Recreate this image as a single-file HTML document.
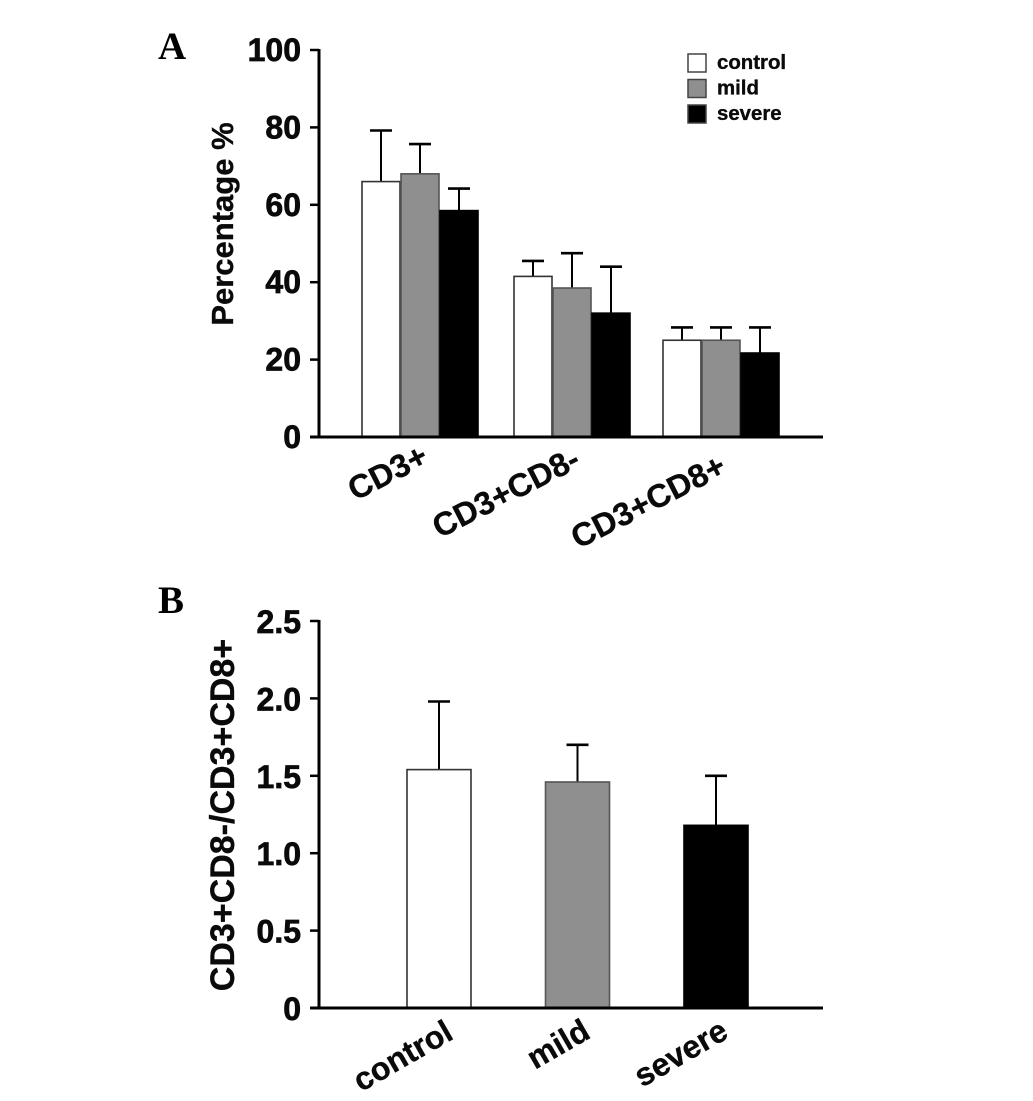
<!DOCTYPE html>
<html>
<head>
<meta charset="utf-8">
<title>CD3 chart</title>
<style>
html,body{margin:0;padding:0;background:#fff;}
svg{display:block;}
text{font-family:"Liberation Sans",sans-serif;font-weight:bold;fill:#0a0a0a;stroke:#0a0a0a;stroke-width:0.35px;}
text.tick{stroke-width:0.7px;}
text.panel{font-family:"Liberation Serif",serif;font-size:39px;fill:#000;stroke:none;}
</style>
</head>
<body>
<svg id="chart" xmlns="http://www.w3.org/2000/svg" width="1033" height="1101" viewBox="0 0 1033 1101"></svg>
<script>
const seriesNames = ['control', 'mild', 'severe'];
const seriesFill = ['#ffffff', '#8f8f8f', '#000000'];
const seriesStroke = ['#333333', '#555555', '#000000'];

const categoriesA = ['CD3+', 'CD3+CD8-', 'CD3+CD8+'];
const controlA = [66, 41.5, 25];
const mildA = [68, 38.5, 25];
const severeA = [58.5, 32, 21.7];
const controlErrA = [79.2, 45.5, 28.3];
const mildErrA = [75.7, 47.5, 28.3];
const severeErrA = [64.2, 44, 28.3];
const ticksA = [0, 20, 40, 60, 80, 100];
const tickLabelsA = ['0', '20', '40', '60', '80', '100'];

const categoriesB = ['control', 'mild', 'severe'];
const valuesB = [1.54, 1.46, 1.18];
const errTopB = [1.98, 1.70, 1.50];
const ticksB = [0, 0.5, 1, 1.5, 2, 2.5];
const tickLabelsB = ['0', '0.5', '1.0', '1.5', '2.0', '2.5'];

const NS = 'http://www.w3.org/2000/svg';
const svg = document.getElementById('chart');

function make(tag, props, txt) {
  const el = document.createElementNS(NS, tag);
  for (const k in props) el.setAttribute(k, props[k]);
  if (txt !== undefined) el.textContent = txt;
  svg.appendChild(el);
  return el;
}
function yA(v) { return 437 - v * 3.87; }
function yB(v) { return 1008 - v * 154.8; }
function xA(g, s) { return [362, 514, 663][g] + s * 39; }
function xB(i) { return 407 + i * 138.5; }

function drawAxes(y, ticks, labels, prefix, base, size, dy) {
  const yLine = make('line', {x1: 319, x2: 319, y1: y(ticks[ticks.length - 1]) - 1, y2: base + 1.5, stroke: '#000', 'stroke-width': 3});
  
  
  const xLine = make('line', {x1: 310, x2: 823, y1: base, y2: base, stroke: '#000', 'stroke-width': 3});
  
  
  ticks.forEach(function (t, i) {
    const tick = make('line', {x1: 310, x2: 319, y1: y(t), y2: y(t), stroke: '#000', 'stroke-width': 2.5});
    
    
    const lab = make('text', {x: 301, y: y(t) + dy, 'text-anchor': 'end', 'font-size': size, class: 'tick'}, labels[i]);
    
    
  });
}

function drawBar(x, w, yTop, yErr, base, s, name) {
  const cx = x + w / 2;
  const stem = make('line', {x1: cx, x2: cx, y1: yTop, y2: yErr, stroke: '#000', 'stroke-width': 2});
  
  
  const cap = make('line', {x1: cx - 11, x2: cx + 11, y1: yErr, y2: yErr, stroke: '#000', 'stroke-width': 2.6});
  
  
  const bar = make('rect', {x: x, y: yTop, width: w, height: base - yTop, fill: seriesFill[s], stroke: seriesStroke[s], 'stroke-width': 1.6});
  
  
}

/* Panel A */
const seriesA = [controlA, mildA, severeA];
const errA = [controlErrA, mildErrA, severeErrA];
categoriesA.forEach(function (c, g) {
  seriesNames.forEach(function (n, s) {
    drawBar(xA(g, s), 38, yA(seriesA[s][g]), yA(errA[s][g]), 437, s, 'bar-a-' + g + '-' + n);
  });
});
drawAxes(yA, ticksA, tickLabelsA, 'panel-a', 437, 32, 11);

const labelEndA = [[430, 463], [582, 466], [728, 473]];
categoriesA.forEach(function (c, g) {
  const p = labelEndA[g];
  const t = make('text', {x: p[0], y: p[1], 'text-anchor': 'end', 'font-size': 32.5, transform: 'rotate(-27 ' + p[0] + ' ' + p[1] + ')'}, c);
  
  
});

const titleA = make('text', {x: 233, y: 224, 'text-anchor': 'middle', 'font-size': 31, transform: 'rotate(-90 233 224)'}, 'Percentage %');



const letterA = make('text', {x: 158, y: 59, class: 'panel'}, 'A');



/* Legend */
seriesNames.forEach(function (n, s) {
  const top = 54 + s * 25.5;
  const sw = make('rect', {x: 688, y: top, width: 18, height: 18, fill: seriesFill[s], stroke: '#444', 'stroke-width': 1.5});
  
  
  const t = make('text', {x: 717, y: top + 15, 'font-size': 20.4}, n);
  
  
});

/* Panel B */
categoriesB.forEach(function (c, i) {
  drawBar(xB(i), 64, yB(valuesB[i]), yB(errTopB[i]), 1008, i, 'bar-b-' + c);
});
drawAxes(yB, ticksB, tickLabelsB, 'panel-b', 1008, 32, 12);

const labelEndB = [[455, 1038], [592, 1037], [730, 1037]];
categoriesB.forEach(function (c, i) {
  const p = labelEndB[i];
  const t = make('text', {x: p[0], y: p[1], 'text-anchor': 'end', 'font-size': 32, transform: 'rotate(-30 ' + p[0] + ' ' + p[1] + ')'}, c);
  
  
});

const titleB = make('text', {x: 234, y: 815, 'text-anchor': 'middle', 'font-size': 34, transform: 'rotate(-90 234 815)'}, 'CD3+CD8-/CD3+CD8+');



const letterB = make('text', {x: 158, y: 613, class: 'panel'}, 'B');


</script>
</body>
</html>
